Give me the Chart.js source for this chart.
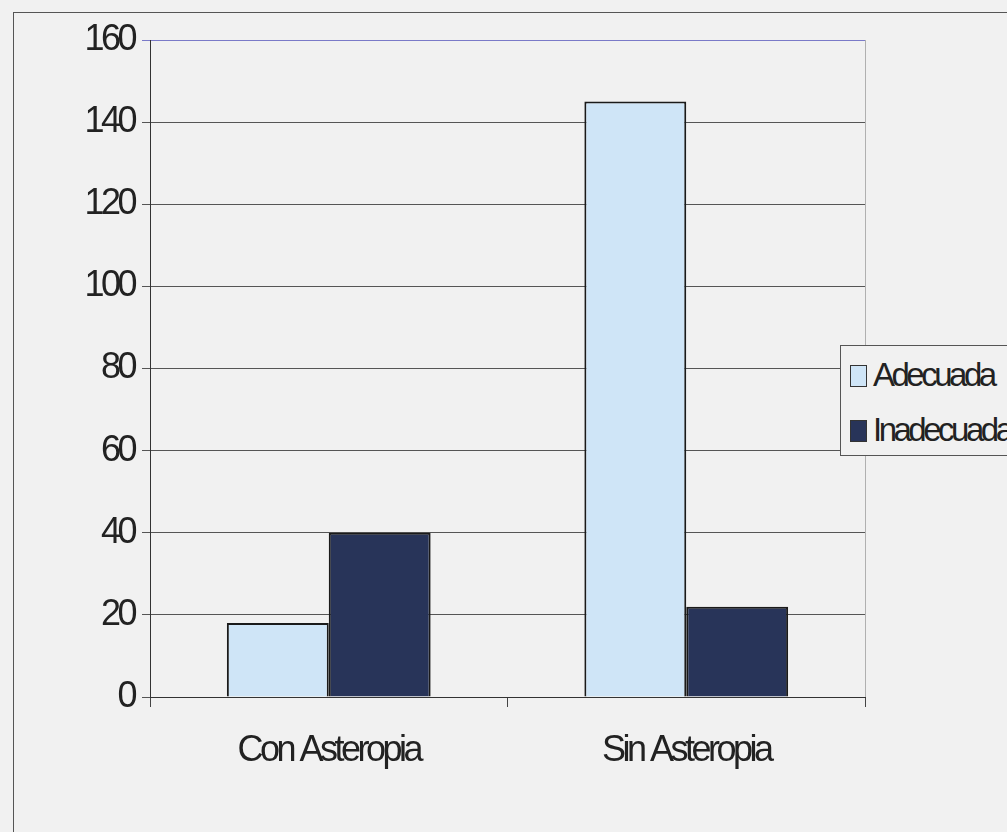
<!DOCTYPE html>
<html>
<head>
<meta charset="utf-8">
<script src="https://cdn.jsdelivr.net/npm/chart.js@4/dist/chart.umd.min.js"></script>
<style>
  html, body { margin: 0; padding: 0; background: #f1f1f1; }
  #wrap { position: relative; width: 1007px; height: 832px; overflow: hidden; }
  #frame { position: absolute; left: 13px; top: 12px; width: 1100px; height: 900px;
           border-left: 1px solid #555; border-top: 1px solid #555; pointer-events: none; }
  canvas { position: absolute; left: 0; top: 0; }
  #legend { position: absolute; left: 840px; top: 345px; width: 200px; height: 111px;
            border: 1px solid #555; background: #f1f1f1; box-sizing: border-box;
            font-family: "Liberation Sans", Arial, sans-serif;
            font-size: 33px; color: #222; letter-spacing: -3.5px; }
  .item { position: absolute; left: 9px; height: 30px; line-height: 30px; white-space: nowrap; }
  .sw { display: inline-block; width: 15px; height: 20px; border: 1px solid #333;
        vertical-align: middle; margin-right: 6px; position: relative; top: -1px; }
</style>
</head>
<body>
<div id="wrap">
  <canvas id="c" width="1007" height="832"></canvas>
  <div id="frame"></div>
  <div id="legend"></div>
</div>
<script>
const categories = ["Con Asteropia", "Sin Asteropia"];
const seriesNames = ["Adecuada", "Inadecuada"];
const adecuada = [18, 145];
const inadecuada = [40, 22];
const yTicks = [0, 20, 40, 60, 80, 100, 120, 140, 160];

const colors = ["#cfe5f7", "#283459"];
const FONT = "'Liberation Sans', Arial, sans-serif";

const legendEl = document.getElementById('legend');
seriesNames.forEach((n, i) => {
  const d = document.createElement('div');
  d.className = 'item';
  d.style.top = (14 + i * 55) + 'px';
  d.innerHTML = '<span class="sw" style="background:' + colors[i] + '"></span>' + n;
  legendEl.appendChild(d);
});

const tightText = {
  id: 'tightText',
  beforeDraw(chart) { chart.ctx.letterSpacing = '-3.5px'; }
};

const rightBorder = {
  id: 'rightBorder',
  afterDraw(chart) {
    const a = chart.chartArea, ctx = chart.ctx;
    ctx.save();
    ctx.strokeStyle = '#b0b0b0';
    ctx.lineWidth = 1;
    ctx.beginPath();
    ctx.moveTo(Math.round(a.right) + 0.5, a.top);
    ctx.lineTo(Math.round(a.right) + 0.5, a.bottom);
    ctx.stroke();
    ctx.restore();
  }
};

new Chart(document.getElementById('c'), {
  type: 'bar',
  data: {
    labels: categories,
    datasets: [
      { label: seriesNames[0], data: adecuada, backgroundColor: colors[0], borderColor: '#1a1a1a', borderWidth: 2 },
      { label: seriesNames[1], data: inadecuada, backgroundColor: colors[1], borderColor: '#1a1a1a', borderWidth: 2 }
    ]
  },
  options: {
    responsive: false,
    animation: false,
    layout: { padding: { left: 0, top: 40, right: 142, bottom: 0 } },
    plugins: { legend: { display: false }, tooltip: { enabled: false } },
    datasets: { bar: { barPercentage: 1, categoryPercentage: 0.57 } },
    scales: {
      x: {
        grid: { offset: true, drawOnChartArea: false, drawTicks: true, tickLength: 10, color: '#444' },
        border: { color: '#333', width: 1 },
        ticks: { color: '#222', font: { family: FONT, size: 36 }, padding: 22 },
        afterFit(s) { s.height = 135; }
      },
      y: {
        min: 0, max: 160,
        afterBuildTicks(s) { s.ticks = yTicks.map(v => ({ value: v })); },
        grid: {
          color: ctx => (ctx.tick && ctx.tick.value === 160) ? '#7a7ac8' : '#555',
          tickLength: 8, drawTicks: true
        },
        border: { color: '#333', width: 1 },
        ticks: { color: '#222', font: { family: FONT, size: 36 }, padding: 8 },
        afterFit(s) { s.width = 150; }
      }
    }
  },
  plugins: [tightText, rightBorder]
});
</script>
</body>
</html>
